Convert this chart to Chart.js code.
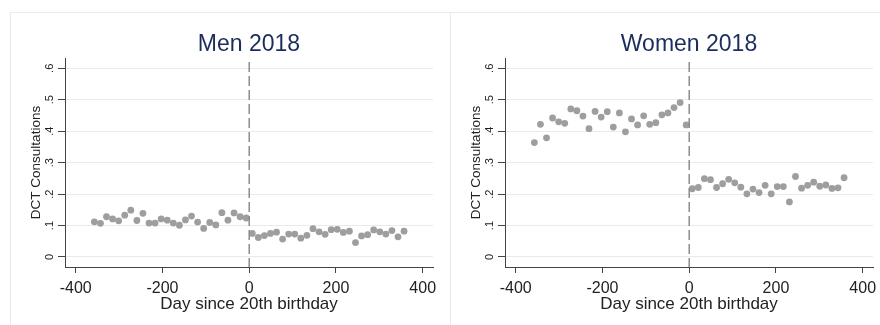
<!DOCTYPE html>
<html>
<head>
<meta charset="utf-8">
<script src="https://cdn.jsdelivr.net/npm/chart.js@4.4.1/dist/chart.umd.min.js"></script>
<style>
  html, body { margin: 0; padding: 0; background: #fff; }
  #wrap { position: relative; width: 880px; height: 325px; overflow: hidden; }
  .frame { position: absolute; background: #e4ecef; }
  canvas { position: absolute; top: 0; }
</style>
</head>
<body>
<div id="wrap">
  <div class="frame" style="left:10px;top:12px;width:870px;height:1px"></div>
  <div class="frame" style="left:10px;top:12px;width:1px;height:313px"></div>
  <div class="frame" style="left:450px;top:12px;width:1px;height:313px"></div>
  <canvas id="chartMen" width="440" height="325" style="left:0"></canvas>
  <canvas id="chartWomen" width="440" height="325" style="left:440px"></canvas>
</div>
<script>
// bin centres (days since 20th birthday)
const days = [-357, -343, -329, -315, -301, -287, -273, -259, -245, -231, -217, -203, -189,
  -175, -161, -147, -133, -119, -105, -91, -77, -63, -49, -35, -21, -7,
  7, 21, 35, 49, 63, 77, 91, 105, 119, 133, 147, 161, 175, 189, 203, 217,
  231, 245, 259, 273, 287, 301, 315, 329, 343, 357];

const menValues = [0.112, 0.107, 0.128, 0.121, 0.115, 0.133, 0.149, 0.116, 0.139, 0.108, 0.108, 0.121, 0.117,
  0.108, 0.101, 0.118, 0.130, 0.111, 0.091, 0.110, 0.102, 0.141, 0.117, 0.140, 0.128, 0.124,
  0.075, 0.062, 0.068, 0.075, 0.079, 0.057, 0.073, 0.073, 0.060, 0.069, 0.090, 0.080, 0.072,
  0.087, 0.088, 0.078, 0.082, 0.046, 0.067, 0.071, 0.086, 0.080, 0.073, 0.084, 0.064, 0.082];

const womenValues = [0.364, 0.422, 0.379, 0.442, 0.430, 0.425, 0.471, 0.465, 0.448, 0.408, 0.463, 0.445, 0.462,
  0.413, 0.458, 0.398, 0.439, 0.420, 0.449, 0.422, 0.427, 0.452, 0.458, 0.475, 0.491, 0.420,
  0.217, 0.221, 0.249, 0.246, 0.221, 0.233, 0.247, 0.236, 0.222, 0.201, 0.216, 0.205, 0.228,
  0.201, 0.224, 0.224, 0.175, 0.256, 0.219, 0.228, 0.238, 0.225, 0.229, 0.218, 0.220, 0.252];

const xTicks = [-400, -200, 0, 200, 400];
const yTicks = [0, 0.1, 0.2, 0.3, 0.4, 0.5, 0.6];
const yTickLabels = ["0", ".1", ".2", ".3", ".4", ".5", ".6"];
const cutoffLine = [{ x: 0, y: 0.62 }, { x: 0, y: -0.032 }];

const xTitle = "Day since 20th birthday";
const yTitle = "DCT Consultations";
const FONT = '"Liberation Sans", Arial, sans-serif';

// titles, tick labels and axis titles (Stata style)
const axisText = {
  id: "axisText",
  afterDraw(chart, args, opts) {
    const { ctx, chartArea, scales } = chart;
    const cx = (chartArea.left + chartArea.right) / 2;
    const cy = (chartArea.top + chartArea.bottom) / 2;
    ctx.save();
    ctx.textAlign = "center";

    ctx.fillStyle = "#1b2d5c";
    ctx.font = "23px " + FONT;
    ctx.textBaseline = "alphabetic";
    ctx.fillText(opts.title, cx, 51);

    ctx.fillStyle = "#222";
    ctx.font = "16px " + FONT;
    xTicks.forEach(v => ctx.fillText(String(v), scales.x.getPixelForValue(v), 293));
    ctx.font = "17px " + FONT;
    ctx.fillText(xTitle, cx, 309);

    ctx.textBaseline = "middle";
    ctx.font = "11px " + FONT;
    yTicks.forEach((v, i) => {
      ctx.save();
      ctx.translate(50, scales.y.getPixelForValue(v));
      ctx.rotate(-Math.PI / 2);
      ctx.fillText(yTickLabels[i], 0, 0);
      ctx.restore();
    });
    ctx.font = "13.5px " + FONT;
    ctx.translate(36, cy);
    ctx.rotate(-Math.PI / 2);
    ctx.fillText(yTitle, 0, 0);
    ctx.restore();
  }
};

function makeChart(canvas, values, title) {
  return new Chart(canvas, {
    type: "scatter",
    data: {
      datasets: [
        {
          type: "line",
          data: cutoffLine,
          borderColor: "#8c8c8c",
          borderWidth: 1.5,
          borderDash: [10, 4],
          pointRadius: 0,
        },
        {
          data: days.map((d, i) => ({ x: d, y: values[i] })),
          backgroundColor: "#9e9e9e",
          borderWidth: 0,
          pointRadius: 3.4,
        },
      ],
    },
    options: {
      responsive: false,
      animation: false,
      layout: { autoPadding: false, padding: { left: 58, top: 58, right: 7, bottom: 52 } },
      plugins: {
        legend: { display: false },
        tooltip: { enabled: false },
        axisText: { title: title },
      },
      scales: {
        x: {
          type: "linear",
          min: -424.7,
          max: 423.7,
          afterBuildTicks: s => { s.ticks = xTicks.map(v => ({ value: v })); },
          ticks: { display: false },
          grid: { drawOnChartArea: false, drawTicks: true, tickLength: 6, tickColor: "#444" },
          border: { display: true, color: "#444", width: 1 },
        },
        y: {
          type: "linear",
          min: -0.0318,
          max: 0.6328,
          afterBuildTicks: s => { s.ticks = yTicks.map(v => ({ value: v })); },
          ticks: { display: false },
          grid: { color: "#e3ecee", lineWidth: 1, drawTicks: true, tickLength: 7, tickColor: "#444" },
          border: { display: true, color: "#444", width: 1 },
        },
      },
    },
    plugins: [axisText],
  });
}

document.addEventListener("DOMContentLoaded", () => {
  makeChart(document.getElementById("chartMen"), menValues, "Men 2018");
  makeChart(document.getElementById("chartWomen"), womenValues, "Women 2018");
});
</script>
</body>
</html>
